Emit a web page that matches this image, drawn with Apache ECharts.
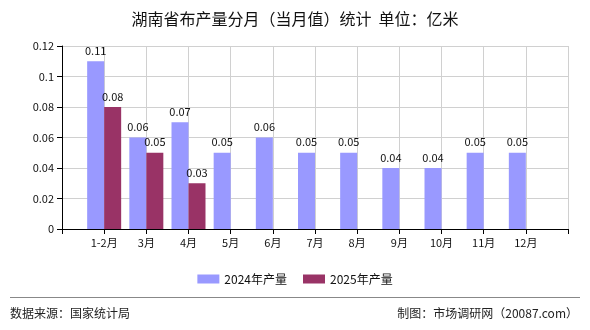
<!DOCTYPE html>
<html><head><meta charset="utf-8">
<script src="https://cdn.jsdelivr.net/npm/echarts@6/dist/echarts.min.js"></script>
<style>html,body{margin:0;padding:0;background:#fff}#c{width:590px;height:330px}</style>
</head><body><div id="c"></div>
<script>
const categories = ['1-2月','3月','4月','5月','6月','7月','8月','9月','10月','11月','12月'];
const values2024 = [0.11,0.06,0.07,0.05,0.06,0.05,0.05,0.04,0.04,0.05,0.05];
const values2025 = [0.08,0.05,0.03];
const seriesNames = ['2024年产量','2025年产量'];
const titleText = '湖南省布产量分月（当月值）统计  单位：亿米';
const sourceText = '数据来源：国家统计局';
const creditText = '制图：市场调研网（20087.com）';

const font = '"Noto Sans CJK SC", "DejaVu Sans", sans-serif';
const xCats = [''].concat(categories, ['']);
function pad(arr){ const out=['-']; for(let i=0;i<categories.length;i++){ out.push(i<arr.length?arr[i]:'-'); } out.push('-'); return out; }

const chart = echarts.init(document.getElementById('c'));
chart.setOption({
  animation:false,
  textStyle:{fontFamily:font},
  title:{text:titleText,left:'center',top:6,textStyle:{fontSize:16,fontWeight:'normal',color:'#111',fontFamily:font}},
  grid:{left:62,right:22,top:46,bottom:101},
  legend:{top:268,left:'center',itemWidth:22,itemHeight:9,itemGap:16,icon:'rect',textStyle:{fontSize:12,color:'#111'},data:seriesNames},
  xAxis:{type:'category',data:xCats,boundaryGap:false,
    axisLine:{lineStyle:{color:'#000'}},axisTick:{show:true,interval:0,lineStyle:{color:'#000'}},
    axisLabel:{interval:0,color:'#111',fontSize:11,margin:8},
    splitLine:{show:true,interval:0,lineStyle:{color:'#d0d0d0'}}},
  yAxis:{type:'value',min:0,max:0.12,interval:0.02,
    axisLine:{show:true,lineStyle:{color:'#000'}},axisTick:{show:true,lineStyle:{color:'#000'}},
    axisLabel:{color:'#111',fontSize:11,margin:8,formatter:v=>String(+v.toFixed(2))},
    splitLine:{show:true,lineStyle:{color:'#d0d0d0'}}},
  series:[
    {name:seriesNames[0],type:'bar',data:pad(values2024),barWidth:17,barGap:'0%',itemStyle:{color:'#9999FF'},
     label:{show:true,position:'top',color:'#111',fontSize:11,formatter:p=>String(p.value)}},
    {name:seriesNames[1],type:'bar',data:pad(values2025),barWidth:17,barGap:'0%',itemStyle:{color:'#993366'},
     label:{show:true,position:'top',color:'#111',fontSize:11,formatter:p=>String(p.value)}}
  ],
  graphic:[
    {type:'line',shape:{x1:10,y1:297.5,x2:580,y2:297.5},style:{stroke:'#888',lineWidth:1}},
    {type:'text',left:10,top:307,style:{text:sourceText,fontSize:12,fill:'#222',fontFamily:font}},
    {type:'text',right:12,top:307,style:{text:creditText,fontSize:12,fill:'#222',fontFamily:font}}
  ]
});
</script></body></html>
